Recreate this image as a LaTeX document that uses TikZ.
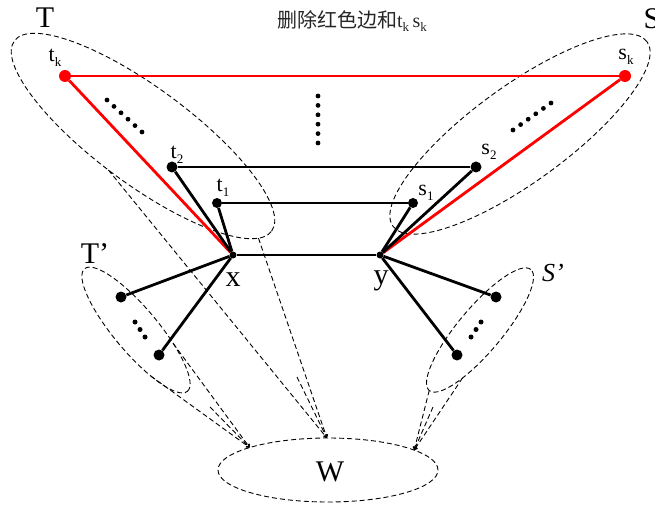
\documentclass[tikz,border=0pt]{standalone}
\usepackage{fontspec}
\setmainfont{Liberation Serif}
\newfontfamily\cjk{Noto Sans CJK SC}
\usetikzlibrary{shapes.geometric,arrows.meta}
\newcommand{\lsub}[2]{#1\raisebox{-0.45ex}{\fontsize{13}{13}\selectfont #2}}

\begin{document}
\begin{tikzpicture}[x=1pt, y=-1pt,
    vtx/.style={circle, fill=black, inner sep=0pt, minimum size=11pt},
    smallvtx/.style={circle, fill=black, inner sep=0pt, minimum size=7pt},
    redvtx/.style={circle, fill=red, inner sep=0pt, minimum size=12pt},
    edge/.style={line width=2.8pt},
    rededge/.style={line width=2.8pt, red},
    setell/.style={ellipse, draw, dash pattern=on 5pt off 3pt, line width=0.9pt, inner sep=0pt, outer sep=0pt},
    cone/.style={dash pattern=on 5pt off 3pt, line width=0.9pt, -{Straight Barb[length=2.5pt,width=4pt]}},
    lbl/.style={inner sep=0pt, font=\fontsize{22}{22}\selectfont},
    big/.style={inner sep=0pt, font=\fontsize{30}{30}\selectfont}
  ]
    \useasboundingbox (0,0) rectangle (655,505);
    % dashed vertex sets
    \node[setell, minimum width=320pt, minimum height=96pt, rotate=-36.5] (Tset) at (143,136) {};
    \node[setell, minimum width=314pt, minimum height=96pt, rotate=36] (Sset) at (520,134) {};
    \node[setell, minimum width=160pt, minimum height=44pt, rotate=-50] (Tpset) at (136,330) {};
    \node[setell, minimum width=158pt, minimum height=44pt, rotate=50] (Spset) at (480,330) {};
    \node[setell, minimum width=220pt, minimum height=64pt] (W) at (328,470) {};
    \node[big] (Wlbl) at (330,472) {W};

    % vertices
    \node[redvtx] (tk) at (65,76) {};
    \node[redvtx] (sk) at (625,76) {};
    \node[vtx] (t2) at (172,167) {};
    \node[vtx] (s2) at (476,167) {};
    \node[vtx, minimum size=10pt] (t1) at (217,203) {};
    \node[vtx, minimum size=10pt] (s1) at (413,203) {};
    \node[smallvtx] (x) at (233,255) {};
    \node[smallvtx] (y) at (380,255) {};
    \node[vtx] (tp1) at (121,297) {};
    \node[vtx] (tp2) at (159,355) {};
    \node[vtx] (sp1) at (496,297) {};
    \node[vtx] (sp2) at (457,355) {};

    % edges
    \draw[rededge] (tk) -- (sk);
    \draw[rededge] (tk) -- (x);
    \draw[rededge] (sk) -- (y);
    \draw[edge] (t2) -- (s2);
    \draw[edge] (t1) -- (s1);
    \draw[edge] (x) -- (y);
    \draw[edge] (t2) -- (x);
    \draw[edge] (t1) -- (x);
    \draw[edge] (s2) -- (y);
    \draw[edge] (s1) -- (y);
    \draw[edge] (x) -- (tp1);
    \draw[edge] (x) -- (tp2);
    \draw[edge] (y) -- (sp1);
    \draw[edge] (y) -- (sp2);

    % dots
    \foreach \i in {0,...,5} {
      \fill ({107+7*\i},{100+6.4*\i}) circle (2.4pt);
      \fill ({513+7.6*\i},{130-5.4*\i}) circle (2.4pt);
      \fill (318,{96+9.4*\i}) circle (2.4pt);
    }
    \foreach \i in {0,1,2} {
      \fill ({135+5*\i},{322+7.5*\i}) circle (2.5pt);
      \fill ({481-5*\i},{322+7.5*\i}) circle (2.5pt);
    }

    % cones into W
    \coordinate (tpmid) at (210,407);
    \coordinate (tmid) at (297,377);
    \coordinate (spmid) at (433,407);
    \draw[cone] (Tpset.-22) -- (W.164);
    \draw[cone] (Tpset.30) -- (W.164);
    \draw[cone] (tpmid) -- (W.164);
    \draw[cone] (Tset.261) -- (W.92);
    \draw[cone] (Tset.-5) -- (W.92);
    \draw[cone] (tmid) -- (W.92);
    \draw[cone] (Spset.180) -- (W.13);
    \draw[cone] (Spset.200) -- (W.13);
    \draw[cone] (spmid) -- (W.13);

    % labels
    \node[inner sep=0pt, font=\fontsize{20}{20}\selectfont, text=black!85] (title) at (352,21) {{\cjk 删除红色边和}\lsub{t}{k}\,\lsub{s}{k}};
    \node[big] (Tlbl) at (45,18) {T};
    \node[big] (Slbl) at (652,19) {S};
    \node[big] (Tplbl) at (95,254) {T’};
    \node[inner sep=0pt, font=\fontsize{26}{26}\itshape] (Splbl) at (553,273) {S’};
    \node[big] (xlbl) at (233,280) {x};
    \node[big] (ylbl) at (381,281) {y};
    \node[lbl] (tklbl) at (55,58) {\lsub{t}{k}};
    \node[lbl] (sklbl) at (626,57) {\lsub{s}{k}};
    \node[lbl] (t2lbl) at (177,155) {\lsub{t}{2}};
    \node[lbl] (s2lbl) at (489,152) {\lsub{s}{2}};
    \node[lbl] (t1lbl) at (223,188) {\lsub{t}{1}};
    \node[lbl] (s1lbl) at (426,193) {\lsub{s}{1}};
  \end{tikzpicture}
\end{document}
